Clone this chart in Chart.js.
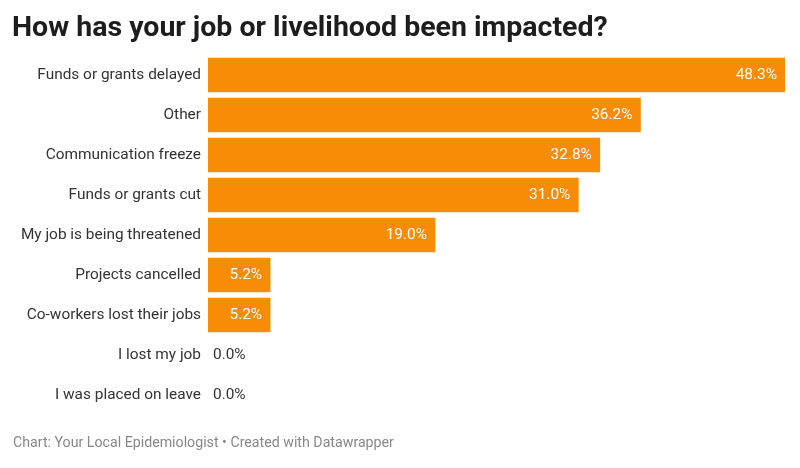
<!DOCTYPE html>
<html>
<head>
<meta charset="utf-8">
<script src="https://cdn.jsdelivr.net/npm/chart.js@4"></script>
<style>
  html, body { margin: 0; padding: 0; background: #fff; }
  #wrap { position: relative; width: 800px; height: 468px; font-family: Roboto, sans-serif; }
  #title { position: absolute; left: 12px; top: 10px; font-size: 28.5px; font-weight: 700; color: #1d1d1d; }
  #footer { position: absolute; left: 13px; top: 434px; font-size: 14.2px; color: #888; }
  canvas { position: absolute; left: 0; top: 0; }
</style>
</head>
<body>
<div id="wrap">
  <canvas id="barChart" width="800" height="468"></canvas>
  <div id="title">How has your job or livelihood been impacted?</div>
  <div id="footer">Chart: Your Local Epidemiologist • Created with Datawrapper</div>
</div>
<script>
// datos
const categories = [
    "Funds or grants delayed",
    "Other",
    "Communication freeze",
    "Funds or grants cut",
    "My job is being threatened",
    "Projects cancelled",
    "Co-workers lost their jobs",
    "I lost my job",
    "I was placed on leave"
];
const values = [48.3, 36.2, 32.8, 31.0, 19.0, 5.2, 5.2, 0.0, 0.0];

// etiquetas de valor dentro / fuera de la barra
const valueLabels = {
    id: "valueLabels",
    afterDatasetsDraw(chart) {
        const ctx = chart.ctx;
        const meta = chart.getDatasetMeta(0);
        ctx.save();
        ctx.font = "15.4px Roboto";
        ctx.textBaseline = "middle";
        meta.data.forEach((bar, i) => {
            const txt = values[i].toFixed(1) + "%";
            if (values[i] > 3) {
                ctx.fillStyle = "#ffffff";
                ctx.textAlign = "right";
                ctx.fillText(txt, bar.x - 8, bar.y);
            } else {
                ctx.fillStyle = "#333333";
                ctx.textAlign = "left";
                ctx.fillText(txt, bar.base + 5, bar.y);
            }
        });
        ctx.restore();
    }
};

const ctx = document.getElementById("barChart").getContext("2d");
const myBarChart = new Chart(ctx, {
    type: "bar",
    data: {
        labels: categories,
        datasets: [
            {
                data: values,
                backgroundColor: values.map(v => v > 0 ? "#f98c07" : "rgba(0,0,0,0)"),
                borderWidth: 0,
                barThickness: 34
            }
        ]
    },
    options: {
        indexAxis: "y",
        responsive: false,
        animation: false,
        layout: {
            padding: { top: 55, bottom: 53, left: 0, right: 15 }
        },
        scales: {
            x: {
                display: false,
                min: 0,
                max: 48.3
            },
            y: {
                grid: { display: false, drawTicks: false },
                border: { display: false },
                ticks: {
                    color: "#333333",
                    font: { family: "Roboto", size: 15.4 },
                    padding: 7
                },
                afterFit: function (scale) {
                    scale.width = 208; // ancho fijo de etiquetas
                }
            }
        },
        plugins: {
            legend: { display: false },
            tooltip: { enabled: false }
        }
    },
    plugins: [valueLabels]
});
</script>
</body>
</html>
